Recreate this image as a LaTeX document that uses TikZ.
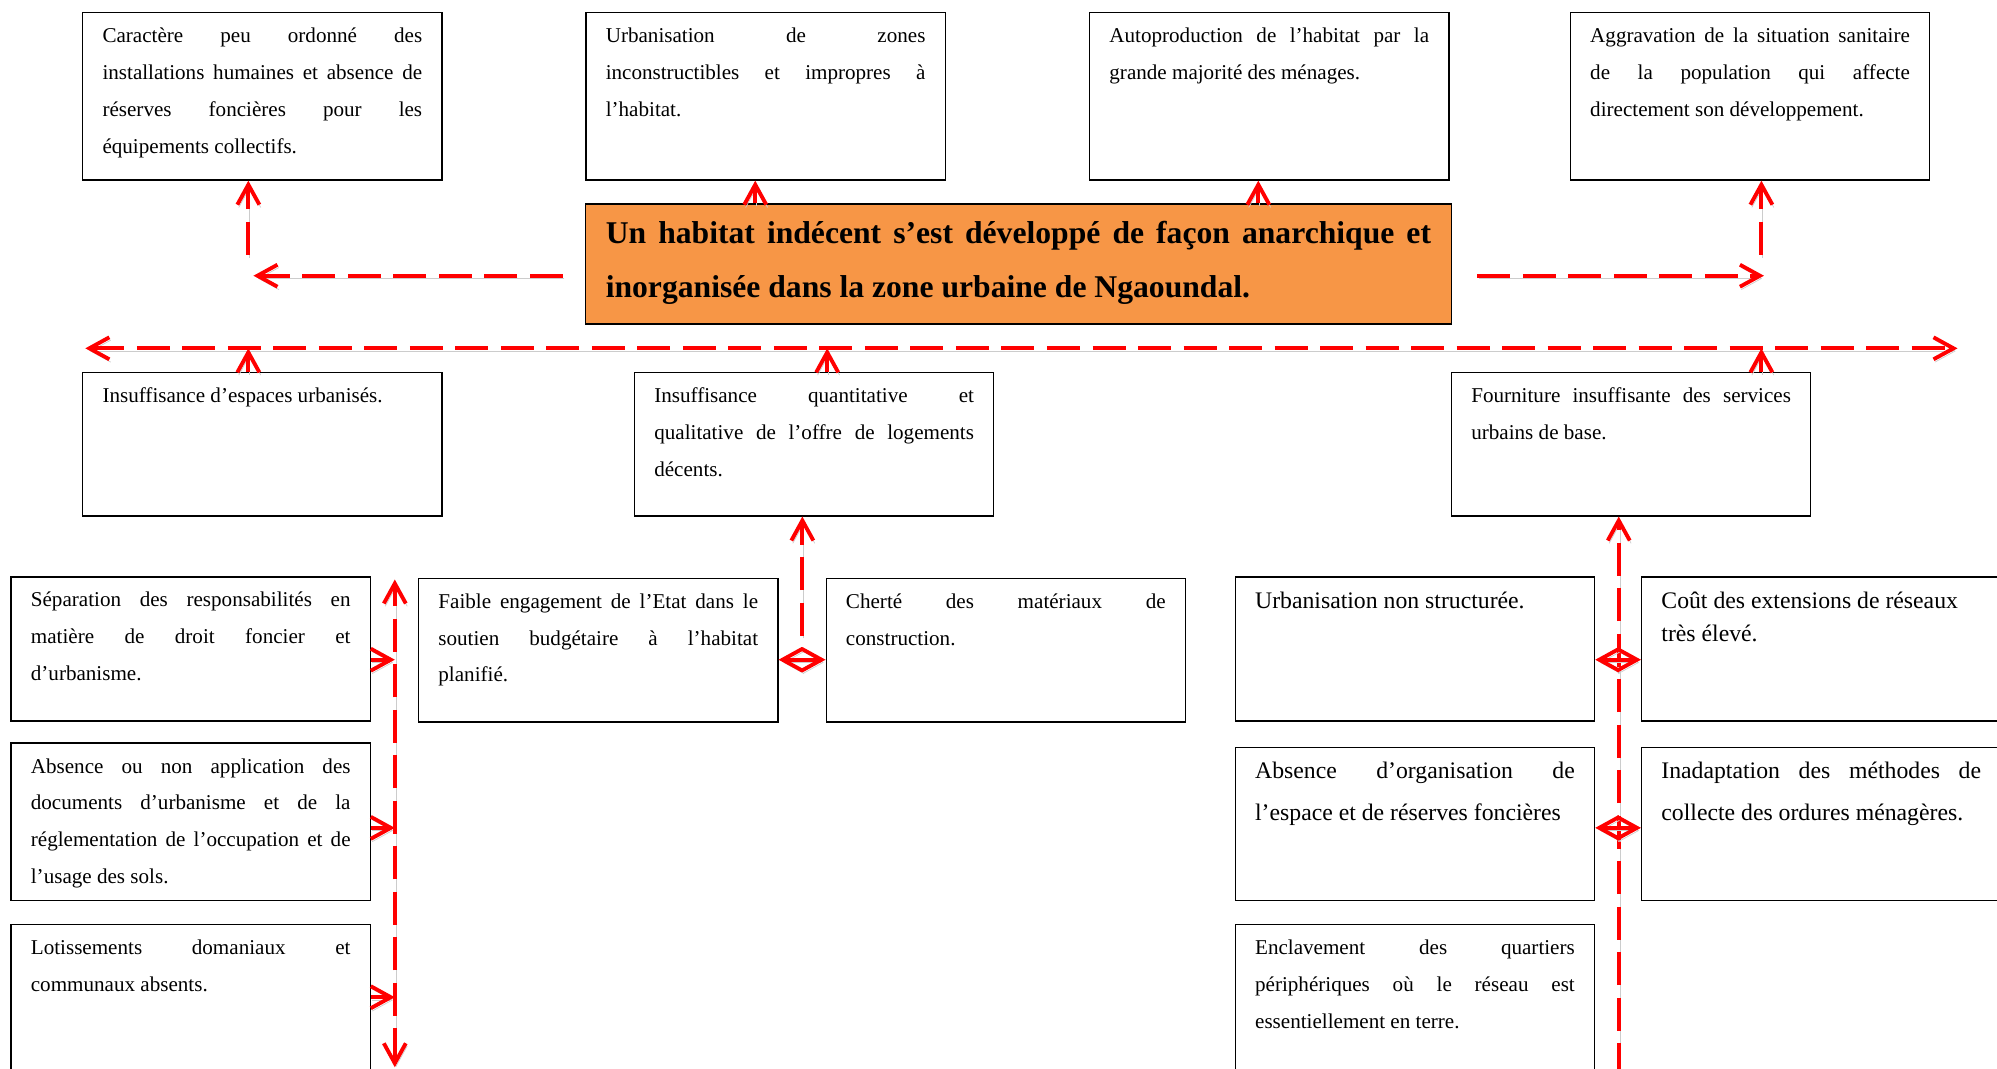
\documentclass[tikz,border=0pt]{standalone}
\usepackage{fontspec}
\setmainfont{Liberation Serif}
\usepackage{xcolor}
\usetikzlibrary{arrows.meta}
\usetikzlibrary{positioning}
\definecolor{hubfill}{HTML}{F79646}
\newlength{\unitpx}
\setlength{\unitpx}{0.02547cm}
% boxed paragraph, text hung from the top
\newcommand{\cell}[3][17pt]{\parbox[c][#2\unitpx][t]{251\unitpx}{\rule{0pt}{#1}#3}}
\hyphenpenalty=10000
\tolerance=10000
\hbadness=10000
\tikzset{cause/.style={draw, line width=0.8pt, inner xsep=15.5\unitpx, inner ysep=0pt, font=\fontsize{12}{21}\selectfont},
  large/.style={font=\fontsize{13.5}{23.7}\selectfont},
  tight/.style={font=\fontsize{13.5}{18.4}\selectfont},
  hub/.style={draw, line width=0.8pt, fill=hubfill, inner xsep=16\unitpx, inner ysep=0pt, font=\fontsize{18}{31}\selectfont\bfseries},
  link/.style={red, line width=2.2pt, dash pattern=on 0.66cm off 0.25cm,
    preaction={draw=black!20, transform canvas={shift={(0.8pt,-1.6pt)}}}}}

\begin{document}
\begin{tikzpicture}[x=0.02547cm,y=-0.02547cm,>={Straight Barb[length=0.4cm,width=0.44cm]}]
\useasboundingbox (0,0) rectangle (1568,839);
%%
\node (top1) at (206,75.65) [cause] {\cell{131.3}{Caractère peu ordonné des\linebreak installations humaines et absence de\linebreak réserves foncières pour les\linebreak équipements collectifs.}};
  \node (top2) at (601.15,75.65) [cause] {\cell{131.3}{Urbanisation de zones\linebreak inconstructibles et impropres à\linebreak l’habitat.}};
  \node (top3) at (996.6,75.65) [cause] {\cell{131.3}{Autoproduction de l’habitat par la\linebreak grande majorité des ménages.}};
  \node (top4) at (1374.1,75.65) [cause] {\cell{131.3}{Aggravation de la situation sanitaire\linebreak de la population qui affecte\linebreak directement son développement.}};
  \node (hub) at (799.65,207.3) [hub] {\parbox[c][94.2\unitpx][t]{648\unitpx}{\rule{0pt}{22.4pt}Un habitat indécent s’est développé de façon anarchique et\linebreak inorganisée dans la zone urbaine de Ngaoundal.}};
  \node (midA) at (206,348.8) [cause] {\cell{112.4}{Insuffisance d’espaces urbanisés.}};
  \node (midB) at (639.25,348.8) [cause] {\cell{112.4}{Insuffisance quantitative et\linebreak qualitative de l’offre de logements\linebreak décents.}};
  \node (midC) at (1280.75,348.8) [cause] {\cell{112.4}{Fourniture insuffisante des services\linebreak urbains de base.}};
  \node (sep) at (149.75,509.5) [cause] {\cell{113}{Séparation des responsabilités en\linebreak matière de droit foncier et\linebreak d’urbanisme.}};
  \node (abs) at (149.75,645.25) [cause] {\cell{123.5}{Absence ou non application des\linebreak documents d’urbanisme et de la\linebreak réglementation de l’occupation et de\linebreak l’usage des sols.}};
  \node (lot) at (149.75,788) [cause] {\cell{124}{Lotissements domaniaux et\linebreak communaux absents.}};
  \node (faible) at (469.75,510.5) [cause] {\cell{113}{Faible engagement de l’Etat dans le\linebreak soutien budgétaire à l’habitat\linebreak planifié.}};
  \node (cherte) at (789.75,510.5) [cause] {\cell{113}{Cherté des matériaux de\linebreak construction.}};
  \node (urb) at (1111,509.5) [cause,large] {\cell[18.1pt]{113}{Urbanisation non structurée.}};
  \node (cout) at (1430,509.5) [cause,tight] {\cell[18.1pt]{113}{Coût des extensions de réseaux\\ très élevé.}};
  \node (org) at (1111,647) [cause,large] {\cell[17.8pt]{120}{Absence d’organisation de\linebreak l’espace et de réserves foncières}};
  \node (inad) at (1430,647) [cause,large] {\cell[17.8pt]{120}{Inadaptation des méthodes de\linebreak collecte des ordures ménagères.}};
  \node (encl) at (1111,788) [cause] {\cell{124}{Enclavement des quartiers\linebreak périphériques où le réseau est\linebreak essentiellement en terre.}};
%
  \coordinate (x2) at (593,0);
  \coordinate (x3) at (988,0);
  \coordinate (xb) at (649.5,0);
  \coordinate (lb) at (442,216.5);
  \coordinate (le) at (199,216.5);
  \coordinate (lu) at (195,200);
  \coordinate (rb) at (1160,216.5);
  \coordinate (re) at (1385,216.5);
  \coordinate (ru) at (1383,200);
  \coordinate (bw) at (67,273.5);
  \coordinate (be) at (1537,273.5);
  \coordinate (lv1) at (310,455);
  \coordinate (lv2) at (310,838);
  \coordinate (cv) at (630,499);
  \coordinate (rv) at (1271,845);
  \coordinate (ya) at (0,518);
  \coordinate (yb) at (0,650);
  \coordinate (yc) at (0,783);
%
  \draw [link,->] (hub.north -| x2) -- (top2.south -| x2);
  \draw [link,->] (hub.north -| x3) -- (top3.south -| x3);
  \draw [link,->] (lb) -- (le);
  \draw [link,->] (lu) -- (top1.south -| lu);
  \draw [link,->] (rb) -- (re);
  \draw [link,->] (ru) -- (top4.south -| ru);
  \draw [link,<->] (bw) -- (be);
  \draw [link,->] (midA.north -| lu) -- (bw -| lu);
  \draw [link,->] (midB.north -| xb) -- (bw -| xb);
  \draw [link,->] (midC.north -| ru) -- (bw -| ru);
  \draw [link,<->] (lv2) -- (lv1);
  \draw [link,->] (sep.east |- ya) -- (lv1 |- ya);
  \draw [link,->] (abs.east |- yb) -- (lv1 |- yb);
  \draw [link,->] (lot.east |- yc) -- (lv1 |- yc);
  \draw [link,<->] (faible.east |- ya) -- (cherte.west |- ya);
  \draw [link,->] (cv) -- (midB.south -| cv);
  \draw [link,->] (rv) -- (midC.south -| rv);
  \draw [link,<->] (urb.east |- ya) -- (cout.west |- ya);
  \draw [link,<->] (org.east |- yb) -- (inad.west |- yb);
%
\end{tikzpicture}
\end{document}
